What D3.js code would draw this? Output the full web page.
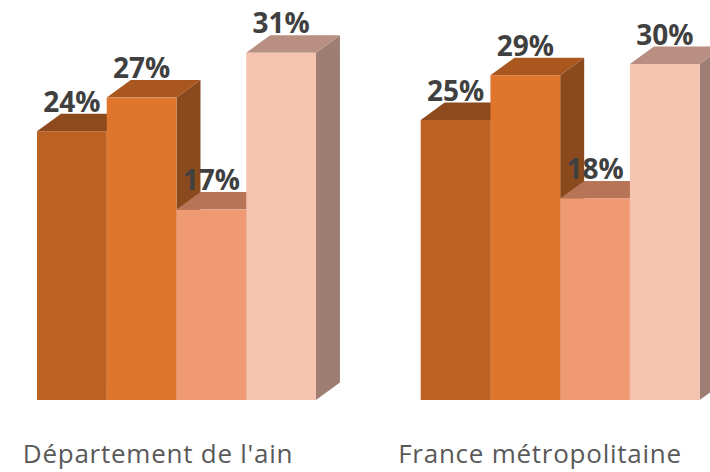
<!DOCTYPE html>
<html>
<head>
<meta charset="utf-8">
<script src="https://cdn.jsdelivr.net/npm/d3@7"></script>
<style>
  html, body { margin: 0; padding: 0; background: #ffffff; }
  svg { display: block; }
</style>
</head>
<body>
<svg id="chart" width="710" height="472"></svg>
<script>
// Share of each group, in percent
const categories = ["Département de l'ain", "France métropolitaine"];
const valuesAin = [24, 27, 17, 31];
const valuesFrance = [25, 29, 18, 30];
const seriesKeys = ["s1", "s2", "s3", "s4"];

const rows = [valuesAin, valuesFrance];

// Face colours per series: front, top, right side
const frontColors = ["#bc6225", "#e0762e", "#f09a73", "#f5c3af"];
const topColors   = ["#8c4a1d", "#a9571f", "#b77457", "#b98f81"];
const sideColors  = ["#7d4219", "#8b4a1d", "#a36750", "#9e7e72"];

const svg = d3.select("#chart");

// Oblique depth of the 3D columns
const depthX = 24, depthY = 17.5;

const groupStep = 383.7, innerPad = 0.273;
const x0 = d3.scaleBand()
  .domain(categories)
  .range([37, 37 + groupStep * (categories.length - innerPad)])
  .paddingInner(innerPad)
  .paddingOuter(0);

const x1 = d3.scaleBand()
  .domain(seriesKeys)
  .range([0, x0.bandwidth()])
  .padding(0);

const y = d3.scaleLinear().domain([0, 35]).range([400, 8]);

const labelX = d3.scalePoint().domain(categories).range([158, 540]);

categories.forEach((cat, ci) => {
  const g = svg.append("g");
  seriesKeys.forEach((key, si) => {
    const v = rows[ci][si];
    const xl = x0(cat) + x1(key);
    const xr = xl + x1.bandwidth();
    const yt = y(v);
    const yb = y(0);
    const bar = g.append("g");
    // right side
    bar.append("path")
      .attr("d", `M${xr},${yt}L${xr + depthX},${yt - depthY}L${xr + depthX},${yb - depthY}L${xr},${yb}Z`)
      .attr("fill", sideColors[si]);
    // top
    bar.append("path")
      .attr("d", `M${xl},${yt}L${xl + depthX},${yt - depthY}L${xr + depthX},${yt - depthY}L${xr},${yt}Z`)
      .attr("fill", topColors[si]);
    // front
    bar.append("rect")
      .attr("x", xl).attr("y", yt)
      .attr("width", xr - xl).attr("height", yb - yt)
      .attr("fill", frontColors[si]);
    // value label
    bar.append("text")
      .attr("x", (xl + xr) / 2)
      .attr("y", yt - depthY - 2)
      .attr("text-anchor", "middle")
      .attr("font-family", "'Open Sans', sans-serif")
      .attr("font-weight", 700)
      .attr("font-size", 28)
      .attr("fill", "#404040")
      .text(v + "%");
  });
});

// Category labels
svg.append("g").selectAll("text")
  .data(categories)
  .join("text")
  .attr("x", d => labelX(d))
  .attr("y", 463)
  .attr("text-anchor", "middle")
  .attr("font-family", "'Open Sans', sans-serif")
  .attr("font-size", 26)
  .attr("letter-spacing", "0.75px")
  .attr("fill", "#595959")
  .text(d => d);
</script>
</body>
</html>
